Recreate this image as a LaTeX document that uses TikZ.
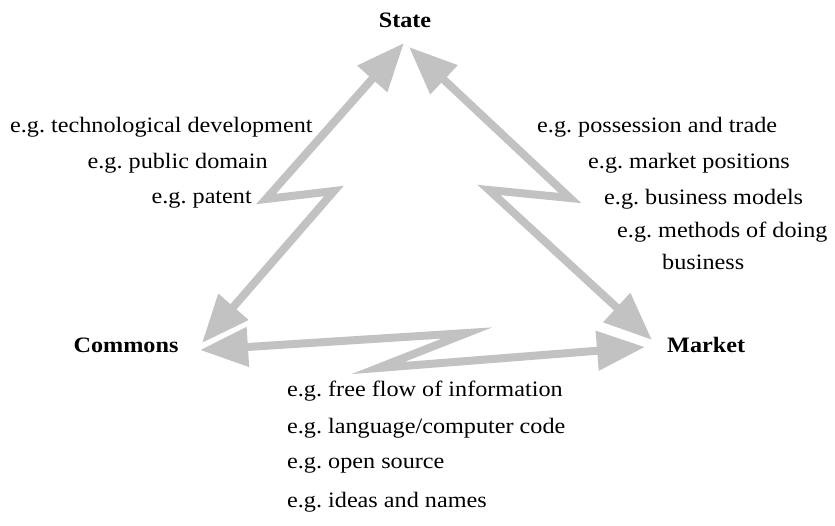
\documentclass[tikz,border=0pt]{standalone}
\usepackage{fontspec}
\setmainfont[FakeStretch=1.1]{Liberation Serif}
\frenchspacing
\usetikzlibrary{arrows.meta}
\definecolor{arrowgray}{RGB}{194,194,194}
\begin{document}
\begin{tikzpicture}[x=1pt,y=-1pt,
  lbl/.style={inner sep=0pt, anchor=west, font=\fontsize{22}{32}\selectfont},
  head/.style={inner sep=0pt, font=\fontsize{22}{26}\selectfont\bfseries},
  zz/.style={draw=arrowgray, line width=8pt, line join=miter,
    {Triangle[length=48pt,width=38pt]}-{Triangle[length=48pt,width=38pt]}}]
\useasboundingbox (0,0) rectangle (835,525);
% main labels
\node[head] (state) at (405,20) {State};
\node[head] (commons) at (126,345) {Commons};
\node[head, anchor=west] (market) at (667,345) {Market};
% left texts
\node[lbl] (tech) at (10,127) {e.g. technological development};
\node[lbl, anchor=east] (pubdom) at (268,163) {e.g. public domain};
\node[lbl, anchor=east] (patent) at (252,200) {e.g. patent};
% right texts
\node[lbl] (possess) at (537,127) {e.g. possession and trade};
\node[lbl] (mktpos) at (588,163) {e.g. market positions};
\node[lbl] (busmod) at (604,199) {e.g. business models};
\node[lbl, anchor=north west, align=left] (methods) at (617,222) {e.g. methods of doing\\\hspace*{45pt}business};
% bottom texts
\node[lbl] (freeflow) at (287,391) {e.g. free flow of information};
\node[lbl] (lang) at (287,428) {e.g. language/computer code};
\node[lbl] (opensrc) at (287,465) {e.g. open source};
\node[lbl] (ideas) at (287,502) {e.g. ideas and names};
% arrow end points and bends
\coordinate (sL) at (404,43);
\coordinate (sR) at (409,47);
\coordinate (cU) at (202,343);
\coordinate (cH) at (200,350);
\coordinate (mU) at (652,340);
\coordinate (mH) at (645,347);
\coordinate (l1) at (266,199);
\coordinate (l2) at (334,191);
\coordinate (r1) at (570,198);
\coordinate (r2) at (489,190);
\coordinate (b1) at (467,333);
\coordinate (b2) at (378,368);
% connectors
\draw[zz] (sL) -- (l1) -- (l2) -- (cU);
\draw[zz] (sR) -- (r1) -- (r2) -- (mU);
\draw[zz] (cH) -- (b1) -- (b2) -- (mH);
\end{tikzpicture}
\end{document}
